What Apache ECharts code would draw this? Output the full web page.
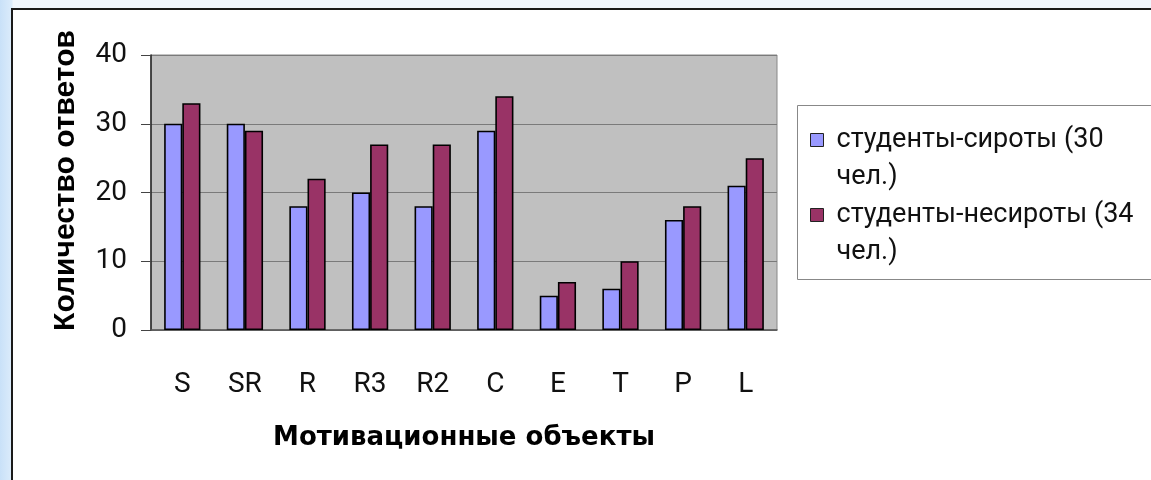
<!DOCTYPE html>
<html>
<head>
<meta charset="utf-8">
<script src="https://cdn.jsdelivr.net/npm/echarts@6/dist/echarts.min.js"></script>
<style>
html,body{margin:0;padding:0;width:1151px;height:480px;overflow:hidden;
  background:linear-gradient(to right,#c9e1f8 0px,#dcecfb 12px,#f0f6fd 13px,#f0f6fd 100%);}
#frame{position:absolute;left:11px;top:8px;width:1140px;height:472px;background:#fff;
  border-left:2px solid #1a1a1a;border-top:2px solid #1a1a1a;box-sizing:border-box;}
#chart{position:absolute;left:0;top:0;width:1151px;height:480px;}
</style>
</head>
<body>
<div id="frame"></div>
<div id="chart"></div>
<script>
const categories = ['S','SR','R','R3','R2','C','E','T','P','L'];
const orphans = [30,30,18,20,18,29,5,6,16,21];
const nonOrphans = [33,29,22,27,27,34,7,10,18,25];
const seriesNames = ['студенты-сироты (30 чел.)','студенты-несироты (34 чел.)'];
const yTicks = [0,10,20,30,40];

const LH = 37;
const chart = echarts.init(document.getElementById('chart'), null, {renderer:'canvas'});
const barStyle = (c) => ({color:c, borderColor:'#000', borderWidth:1.6});
chart.setOption({
  backgroundColor:'transparent',
  animation:false,
  graphic:[{type:'rect', left:797, top:105, shape:{width:400, height:174},
    style:{fill:'#fff', stroke:'#888', lineWidth:1}, z:-1}],
  grid:{left:151, right:374, top:55, bottom:150, show:true, backgroundColor:'#c0c0c0', borderColor:'#888', borderWidth:1},
  legend:{
    orient:'vertical', left:810, top:140 - 1.5*LH,
    padding:0,
    itemWidth:13, itemHeight:13, itemGap:75 - 3*LH,
    icon:'rect',
    itemStyle:{borderColor:'#222', borderWidth:1},
    formatter:(n)=>'\n' + n.replace(' чел.)','\nчел.)'),
    textStyle:{fontFamily:'Roboto', fontSize:27, color:'#111', lineHeight:LH, padding:[0,0,0,8]}
  },
  xAxis:{
    type:'category', data:categories,
    name:'Мотивационные объекты', nameLocation:'middle', nameGap:95,
    nameTextStyle:{fontFamily:'DejaVu Sans', fontWeight:'bold', fontSize:26, color:'#000'},
    axisLine:{show:true, lineStyle:{color:'#555', width:1.5}},
    axisTick:{show:false},
    axisLabel:{margin:41, fontFamily:'Roboto', fontSize:28, color:'#111'}
  },
  yAxis:{
    type:'value', min:0, max:40, interval:10,
    name:'Количество ответов', nameLocation:'middle', nameGap:70, nameRotate:90,
    nameTextStyle:{fontFamily:'Liberation Sans', fontWeight:'bold', fontSize:30, color:'#000', padding:[0,0,0,24]},
    axisLine:{show:true, lineStyle:{color:'#222', width:1.5}},
    axisTick:{show:true, inside:false, length:10, lineStyle:{color:'#444'}},
    axisLabel:{margin:24, fontFamily:'Roboto', fontSize:28, color:'#111',
      formatter:(v)=> yTicks.includes(v) ? String(v) : ''},
    splitLine:{show:true, lineStyle:{color:'#7a7a7a', width:1.2}}
  },
  series:[
    {name:seriesNames[0], type:'bar', data:orphans, barGap:'0%', barCategoryGap:'42%', itemStyle:barStyle('#9999ff')},
    {name:seriesNames[1], type:'bar', data:nonOrphans, barGap:'0%', barCategoryGap:'42%', itemStyle:barStyle('#993366')}
  ]
});
</script>
</body>
</html>
